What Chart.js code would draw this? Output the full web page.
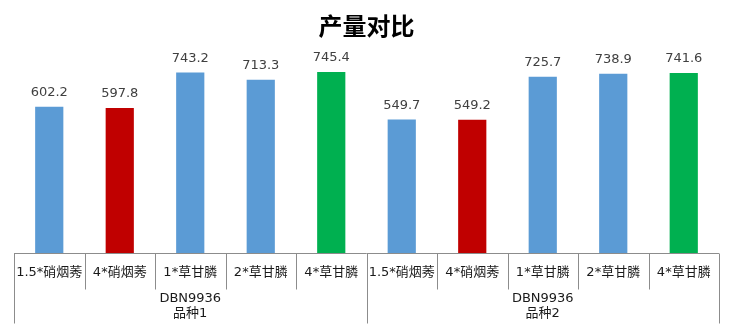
<!DOCTYPE html>
<html>
<head>
<meta charset="utf-8">
<script src="https://cdn.jsdelivr.net/npm/chart.js@4.4.1/dist/chart.umd.min.js"></script>
<style>
html,body{margin:0;padding:0;background:#fff;}
#wrap{width:735px;height:331px;position:relative;}
</style>
</head>
<body>
<div id="wrap"><canvas id="c" width="735" height="331"></canvas></div>
<script>
const categories = ["1.5*硝烟莠","4*硝烟莠","1*草甘膦","2*草甘膦","4*草甘膦","1.5*硝烟莠","4*硝烟莠","1*草甘膦","2*草甘膦","4*草甘膦"];
const groups = [["DBN9936","品种1"],["DBN9936","品种2"]];
const groupSize = 5;
const yieldValues = [602.2, 597.8, 743.2, 713.3, 745.4, 549.7, 549.2, 725.7, 738.9, 741.6];
const barColors = ["#5B9BD5","#C00000","#5B9BD5","#5B9BD5","#00B050","#5B9BD5","#C00000","#5B9BD5","#5B9BD5","#00B050"];

const cjk = "'Noto Sans CJK SC','Microsoft YaHei',sans-serif";
const txtFont = "'DejaVu Sans','Noto Sans CJK SC',sans-serif";

const overlay = {
  id: 'overlay',
  afterDatasetsDraw(chart) {
    const ctx = chart.ctx;
    const meta = chart.getDatasetMeta(0);
    ctx.save();
    ctx.fillStyle = '#404040';
    ctx.font = '13px ' + txtFont;
    ctx.textAlign = 'center';
    ctx.textBaseline = 'middle';
    meta.data.forEach((bar, i) => {
      ctx.fillText(yieldValues[i].toFixed(1), bar.x, bar.y - 14);
    });
    ctx.restore();
  },
  afterDraw(chart) {
    const ctx = chart.ctx;
    const x = chart.scales.x;
    const area = chart.chartArea;
    const n = categories.length;
    const w = (area.right - area.left) / n;
    const y0 = Math.round(area.bottom) + 0.5;
    ctx.save();
    ctx.strokeStyle = '#8c8c8c';
    ctx.lineWidth = 1;
    ctx.beginPath();
    ctx.moveTo(area.left, y0);
    ctx.lineTo(area.right, y0);
    for (let i = 0; i <= n; i++) {
      const px = Math.round(x.getPixelForValue(Math.min(i, n - 1)) + (i === n ? w / 2 : -w / 2)) + 0.5;
      const len = (i % groupSize === 0) ? 70 : 36;
      ctx.moveTo(px, y0);
      ctx.lineTo(px, y0 + len);
    }
    ctx.stroke();
    ctx.fillStyle = '#1a1a1a';
    ctx.font = '13px ' + txtFont;
    ctx.textAlign = 'center';
    ctx.textBaseline = 'middle';
    categories.forEach((c, i) => {
      ctx.fillText(c, x.getPixelForValue(i), y0 + 19);
    });
    groups.forEach((g, gi) => {
      const start = x.getPixelForValue(gi * groupSize) - w / 2;
      const cx = start + (w * groupSize) / 2;
      ctx.fillText(g[0], cx, y0 + 45);
      ctx.fillText(g[1], cx, y0 + 60);
    });
    ctx.restore();
  }
};

new Chart(document.getElementById('c'), {
  type: 'bar',
  data: {
    labels: categories,
    datasets: [{
      data: yieldValues,
      backgroundColor: barColors,
      borderWidth: 0,
      barPercentage: 0.4,
      categoryPercentage: 1.0
    }]
  },
  options: {
    responsive: false,
    animation: false,
    layout: { padding: { top: 0, bottom: 78, left: 14, right: 16 } },
    plugins: {
      legend: { display: false },
      tooltip: { enabled: false },
      title: {
        display: true,
        text: '产量对比',
        color: '#000',
        font: { family: cjk, size: 24, weight: 'bold', lineHeight: 1.2 },
        padding: { top: 11, bottom: 19 }
      }
    },
    scales: {
      x: { display: false },
      y: { display: false, min: 0, max: 800 }
    }
  },
  plugins: [overlay]
});
</script>
</body>
</html>
